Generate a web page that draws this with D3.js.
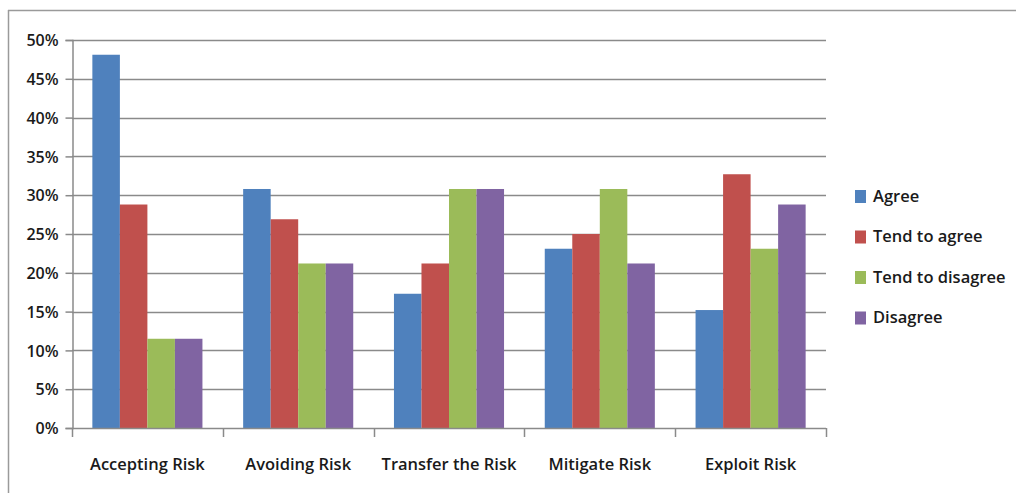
<!DOCTYPE html>
<html>
<head>
<meta charset="utf-8">
<script src="https://cdn.jsdelivr.net/npm/d3@7"></script>
<style>
  body { margin: 0; background: #fff; }
  text { font-family: "Open Sans", "DejaVu Sans", sans-serif; fill: #1a1a1a; font-weight: 600; }
</style>
</head>
<body>
<div id="chart"></div>
<script>
const width = 1016
const height = 493
const margins = ({
    top: 40,
    right: 190,
    bottom: 65,
    left: 72
})

const categories = ["Accepting Risk", "Avoiding Risk", "Transfer the Risk", "Mitigate Risk", "Exploit Risk"]
const seriesNames = ["Agree", "Tend to agree", "Tend to disagree", "Disagree"]
const seriesColors = ["#4f81bd", "#c0504d", "#9bbb59", "#8064a2"]
const agree = [0.481, 0.308, 0.173, 0.231, 0.152]
const tendToAgree = [0.288, 0.269, 0.212, 0.250, 0.327]
const tendToDisagree = [0.115, 0.212, 0.308, 0.308, 0.231]
const disagree = [0.115, 0.212, 0.308, 0.212, 0.288]
const yTicks = [0, 0.05, 0.10, 0.15, 0.20, 0.25, 0.30, 0.35, 0.40, 0.45, 0.50]

const series = [agree, tendToAgree, tendToDisagree, disagree]

const svg = d3.select("#chart")
    .append("svg")
    .attr("width", width)
    .attr("height", height)

// outer frame (only top and left edges visible)
svg.append("line")
    .attr("x1", 8).attr("x2", width).attr("y1", 10.5).attr("y2", 10.5)
    .style("stroke", "#9a9a9a").style("stroke-width", 1.5)
svg.append("line")
    .attr("x1", 8.5).attr("x2", 8.5).attr("y1", 10).attr("y2", height)
    .style("stroke", "#9a9a9a").style("stroke-width", 1.5)

const plotRight = 826
const plotBottom = 428

const x = d3.scaleBand()
    .domain(categories)
    .range([margins.left, plotRight])
    .paddingInner(0.27)
    .paddingOuter(0.135)

const xInner = d3.scaleBand()
    .domain(d3.range(series.length))
    .range([0, x.bandwidth()])

const y = d3.scaleLinear()
    .domain([0, 0.5])
    .range([plotBottom, margins.top])

// gridlines
svg.append("g")
    .selectAll("line")
    .data(yTicks.slice(1))
    .enter()
    .append("line")
    .attr("x1", margins.left)
    .attr("x2", plotRight)
    .attr("y1", d => Math.round(y(d)) + 0.5)
    .attr("y2", d => Math.round(y(d)) + 0.5)
    .style("stroke", "#8a8a8a")
    .style("stroke-width", 1.5)

// bars
categories.forEach((cat, ci) => {
    svg.append("g")
        .selectAll("rect")
        .data(series.map((s, si) => ({ si: si, v: s[ci] })))
        .enter()
        .append("rect")
        .attr("x", d => x(cat) + xInner(d.si))
        .attr("width", xInner.bandwidth())
        .attr("y", d => y(d.v))
        .attr("height", d => y(0) - y(d.v))
        .style("fill", d => seriesColors[d.si])
})

// y axis
const yAxis = svg.append("g")
    .attr("transform", `translate(${margins.left + 0.5},0)`)
    .call(d3.axisLeft(y).tickValues(yTicks).tickFormat(d3.format(".0%")).tickSize(7).tickPadding(7))
yAxis.select(".domain").style("stroke", "#8a8a8a").style("stroke-width", 1.5)
yAxis.selectAll(".tick line").style("stroke", "#8a8a8a").style("stroke-width", 1.5)
yAxis.selectAll(".tick text")
    .style("font-size", "16px")
    .style("font-family", "'Open Sans', sans-serif")
    .style("font-weight", 600)
    .style("fill", "#1a1a1a")
    .attr("dy", "0.35em")

// x axis with boundary ticks between categories
const boundaries = d3.range(categories.length + 1).map(i => margins.left + i * x.step())
const xAxis = svg.append("g")
svg.append("line")
    .attr("x1", margins.left).attr("x2", plotRight)
    .attr("y1", plotBottom + 0.5).attr("y2", plotBottom + 0.5)
    .style("stroke", "#8a8a8a").style("stroke-width", 1.5)
xAxis.selectAll("line")
    .data(boundaries)
    .enter()
    .append("line")
    .attr("x1", d => Math.round(d) + 0.5)
    .attr("x2", d => Math.round(d) + 0.5)
    .attr("y1", plotBottom)
    .attr("y2", plotBottom + 9)
    .style("stroke", "#8a8a8a")
    .style("stroke-width", 1.5)
xAxis.selectAll("text")
    .data(categories)
    .enter()
    .append("text")
    .text(d => d)
    .attr("x", d => x(d) + x.bandwidth() / 2)
    .attr("y", plotBottom + 42)
    .attr("text-anchor", "middle")
    .style("font-size", "16.5px")

// legend
const legend = svg.append("g")
    .attr("transform", "translate(855,190)")
const legendItems = legend.selectAll("g")
    .data(seriesNames)
    .enter()
    .append("g")
    .attr("transform", (d, i) => `translate(0,${i * 40.5})`)
legendItems.append("rect")
    .attr("width", 11)
    .attr("height", 13)
    .style("fill", (d, i) => seriesColors[i])
legendItems.append("text")
    .text(d => d)
    .attr("x", 18)
    .attr("y", 6)
    .attr("dy", "0.35em")
    .style("font-size", "16.5px")
</script>
</body>
</html>
